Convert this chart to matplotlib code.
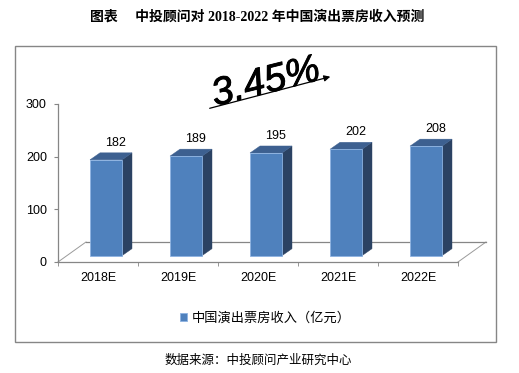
import matplotlib
matplotlib.use("Agg")
import matplotlib.pyplot as plt
import matplotlib.patheffects as pe
import numpy as np
from matplotlib.patches import Polygon, Rectangle

categories = ["2018E", "2019E", "2020E", "2021E", "2022E"]
values = [182, 189, 195, 202, 208]
yticks = [0, 100, 200, 300]
series_name = "中国演出票房收入（亿元）"
growth_label = "3.45%"
title = "图表\u3000 中投顾问对 2018-2022 年中国演出票房收入预测"
source = "数据来源：中投顾问产业研究中心"

FRONT = "#4F81BD"
SIDE = "#2B4263"
TOP = "#3D6090"
EDGE = "#8DB3E2"
GRID = "#868686"

W, H = 519, 373
fig = plt.figure(figsize=(W / 100, H / 100), dpi=100)

# axes spanning px x 58..458, y 262..104
ax = fig.add_axes([58 / W, (H - 262) / H, 400 / W, 158 / H])
ax.set_xlim(-0.5, 4.5)
ax.set_ylim(0, 300)
for s in ["top", "right"]:
    ax.spines[s].set_visible(False)
for s in ["left", "bottom"]:
    ax.spines[s].set_color(GRID)
    ax.spines[s].set_linewidth(0.9)
ax.patch.set_alpha(0)

# floor depth (3D look)
fdx, fdy = 0.35, 38
ax.plot([-0.5, -0.5 + fdx], [0, fdy], color="#9a9a9a", lw=0.7, clip_on=False, zorder=1)
ax.plot([4.5, 4.5 + fdx], [0, fdy], color="#9a9a9a", lw=0.7, clip_on=False, zorder=1)
ax.plot([-0.5 + fdx, 4.5 + fdx], [fdy, fdy], color=GRID, lw=0.9, clip_on=False, zorder=1)

x = np.arange(len(categories))
base = 12
bw = 0.4
off = 0.1
ddx, ddy = 0.125, 13.3

bars = ax.bar(x + off, values, width=bw, bottom=base, color=FRONT,
              edgecolor=EDGE, linewidth=0.6, zorder=3, label=series_name)
for xi, v in zip(x, values):
    l = xi + off - bw / 2
    r = xi + off + bw / 2
    t = base + v
    side = Polygon([[r, base], [r + ddx, base + ddy], [r + ddx, t + ddy], [r, t]],
                   closed=True, facecolor=SIDE, edgecolor=SIDE, lw=0.3, zorder=2)
    top = Polygon([[l, t], [l + ddx, t + ddy], [r + ddx, t + ddy], [r, t]],
                  closed=True, facecolor=TOP, edgecolor=TOP, lw=0.3, zorder=2)
    ax.add_patch(side)
    ax.add_patch(top)
    ax.text(xi + 0.225, v + 44, str(v), ha="center", va="center",
            fontsize=9, family="Liberation Sans", color="black")

# ticks
ax.set_yticks(yticks)
ax.set_yticklabels([str(t) for t in yticks], fontsize=9, family="Liberation Sans")
ax.tick_params(axis="y", direction="out", length=3, color=GRID, pad=5)
ax.set_xticks(x)
ax.set_xticklabels(categories, fontsize=9, family="Liberation Sans")
ax.tick_params(axis="x", which="major", length=0, pad=7)
ax.set_xticks(np.arange(-0.5, len(categories), 1.0), minor=True)
ax.tick_params(axis="x", which="minor", direction="out", length=3, color=GRID)

# legend
leg = fig.legend(handles=[bars], labels=[series_name], loc="center",
                 bbox_to_anchor=(265 / W, 1 - 318 / H), frameon=False,
                 handlelength=0.6, handleheight=0.6, handletextpad=0.3,
                 prop={"family": "Noto Sans CJK SC", "size": 9.5})

# growth annotation
fig.text(266 / W, 1 - 83 / H, growth_label, ha="center", va="center",
         rotation=14, fontsize=28, fontweight="normal", fontstyle="italic",
         family="Liberation Sans", color="black",
         path_effects=[pe.withStroke(linewidth=0.6, foreground="black")])
ax.annotate("", xy=(333 / W, 1 - 76 / H), xytext=(207 / W, 1 - 109 / H),
            xycoords="figure fraction", textcoords="figure fraction",
            arrowprops=dict(arrowstyle="-|>", color="black", lw=0.9,
                            mutation_scale=9))

# outer box
fig.patches.append(Rectangle((15 / W, 1 - 342 / H), 481 / W, 296 / H,
                             transform=fig.transFigure, fill=False,
                             edgecolor=GRID, lw=1.0))

fig.text(257 / W, 1 - 17 / H, title, ha="center", va="center", fontsize=10,
         fontweight="bold", family=["Liberation Serif", "Noto Sans CJK SC"])
fig.text(258 / W, 1 - 360 / H, source, ha="center", va="center", fontsize=9,
         family=["Noto Sans CJK SC"])

fig.savefig("out.png", dpi=100)
